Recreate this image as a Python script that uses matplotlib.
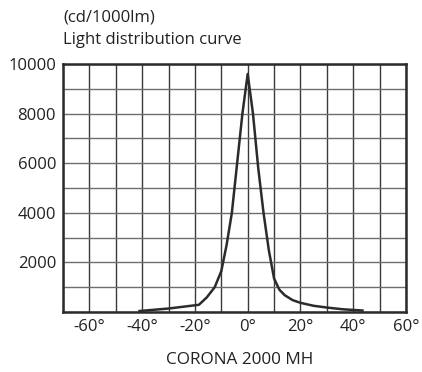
import matplotlib.pyplot as plt
from matplotlib.ticker import MultipleLocator

plt.rcParams['font.family'] = ['Open Sans', 'DejaVu Sans']

# light distribution, cd per 1000 lm against angle
angle = [-41, -30, -18.5, -15.5, -12.5, -10, -8, -6, -4, -2, 0,
         2, 4, 6, 8, 10, 12, 14, 17, 20, 25, 30, 36, 43.5]
cd = [40, 140, 290, 590, 1000, 1650, 2700, 4000, 6000, 8000, 9600,
      8000, 5800, 4000, 2500, 1350, 900, 680, 480, 370, 250, 180, 110, 60]

x_ticks = [-60, -40, -20, 0, 20, 40, 60]
y_ticks = [2000, 4000, 6000, 8000, 10000]

fig = plt.figure(figsize=(4.22, 3.72), dpi=100)
ax = fig.add_axes([63/422, 1-312/372, 343/422, 248/372])

ax.plot(angle, cd, color='#2b2b2b', lw=1.8, solid_joinstyle='round')

ax.set_xlim(-70, 60)
ax.set_ylim(0, 10000)
ax.xaxis.set_minor_locator(MultipleLocator(10))
ax.yaxis.set_minor_locator(MultipleLocator(1000))
ax.set_xticks(x_ticks)
ax.set_xticklabels([f'{t}°' for t in x_ticks])
ax.set_yticks(y_ticks)
ax.set_yticklabels([str(t) for t in y_ticks])
ax.tick_params(which='both', length=0, labelsize=12, colors='#222222', pad=5)
ax.grid(which='both', axis='x', color='#3a3a3a', lw=1)
ax.grid(which='both', axis='y', color='#6e6e6e', lw=1)
for s in ax.spines.values():
    s.set_color('#2b2b2b')
    s.set_linewidth(1.8)

fig.text(63/422, 1-17/372, '(cd/1000lm)', fontsize=12, va='center', color='#222222')
fig.text(63/422, 1-40/372, 'Light distribution curve', fontsize=12, va='center', color='#222222')
fig.text(240/422, 1-360/372, 'CORONA 2000 MH', fontsize=12.3, ha='center', va='center', color='#222222')

fig.savefig('out.png', dpi=100)
